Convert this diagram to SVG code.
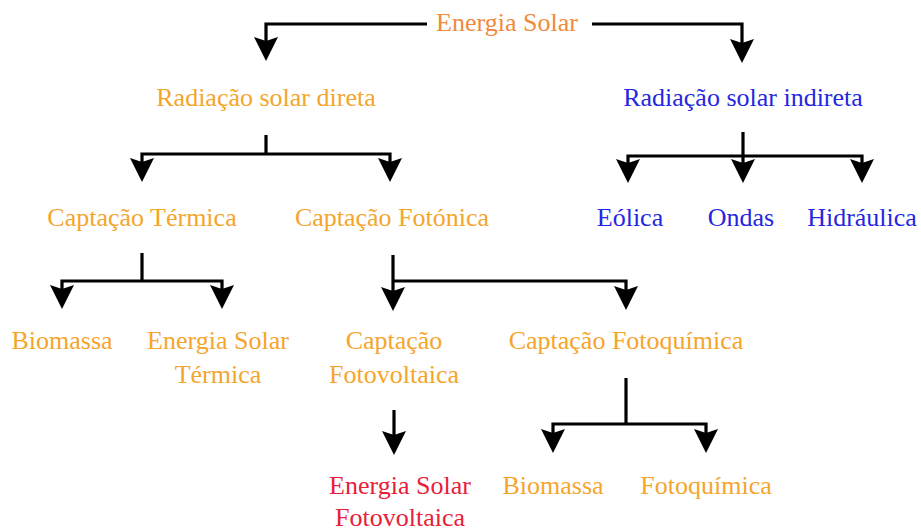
<svg xmlns="http://www.w3.org/2000/svg" xmlns:xlink="http://www.w3.org/1999/xlink" width="921" height="532" viewBox="0 0 921 532">
<style>
text{font-family:"Liberation Serif","Times New Roman",serif;font-size:26px;text-anchor:middle}
.o{fill:#F5A52C}
.t{fill:#F08A3C}
.b{fill:#2626E0}
.r{fill:#E8203A}
.c{fill:none;stroke:#000;stroke-width:3.2}
</style>
<defs>
<path id="arr" d="M0,0 L-12,-24 L0,-20 L12,-24 z" fill="#000"/>
</defs>
<rect width="921" height="532" fill="#fff"/>
<g id="connectors">
<path class="c" d="M427,24 H266 V44"/><use href="#arr" xlink:href="#arr" x="266" y="61"/>
<path class="c" d="M592,24 H742 V46"/><use href="#arr" xlink:href="#arr" x="742" y="63"/>
<path class="c" d="M266,135 V154"/>
<path class="c" d="M266,154 H142 V165"/><use href="#arr" xlink:href="#arr" x="142" y="182"/>
<path class="c" d="M266,154 H390 V165"/><use href="#arr" xlink:href="#arr" x="390" y="182"/>
<path class="c" d="M743,132 V166"/><use href="#arr" xlink:href="#arr" x="743" y="183"/>
<path class="c" d="M743,156 H628 V166"/><use href="#arr" xlink:href="#arr" x="628" y="183"/>
<path class="c" d="M743,156 H862 V166"/><use href="#arr" xlink:href="#arr" x="862" y="183"/>
<path class="c" d="M142,253 V281"/>
<path class="c" d="M142,281 H62 V292"/><use href="#arr" xlink:href="#arr" x="62" y="309"/>
<path class="c" d="M142,281 H222 V292"/><use href="#arr" xlink:href="#arr" x="222" y="309"/>
<path class="c" d="M393,255 V294"/><use href="#arr" xlink:href="#arr" x="393" y="311"/>
<path class="c" d="M393,281 H626 V293"/><use href="#arr" xlink:href="#arr" x="626" y="310"/>
<path class="c" d="M394,410 V438"/><use href="#arr" xlink:href="#arr" x="394" y="455"/>
<path class="c" d="M626,378 V424"/>
<path class="c" d="M626,424 H553 V436"/><use href="#arr" xlink:href="#arr" x="553" y="453"/>
<path class="c" d="M626,424 H706 V436"/><use href="#arr" xlink:href="#arr" x="706" y="453"/>
</g>
<g id="energia-solar"><text class="t" x="507" y="31">Energia Solar</text></g>
<g id="radiacao-direta"><text class="o" x="266" y="106">Radiação solar direta</text></g>
<g id="radiacao-indireta"><text class="b" x="743" y="106">Radiação solar indireta</text></g>
<g id="captacao-termica"><text class="o" x="142" y="226">Captação Térmica</text></g>
<g id="captacao-fotonica"><text class="o" x="392" y="226">Captação Fotónica</text></g>
<g id="eolica"><text class="b" x="630" y="226">Eólica</text></g>
<g id="ondas"><text class="b" x="741" y="226">Ondas</text></g>
<g id="hidraulica"><text class="b" x="862" y="226">Hidráulica</text></g>
<g id="biomassa1"><text class="o" x="62" y="349">Biomassa</text></g>
<g id="energia-solar-termica"><text class="o" x="218" y="349">Energia Solar</text><text class="o" x="218" y="383">Térmica</text></g>
<g id="captacao-fotovoltaica"><text class="o" x="394" y="349">Captação</text><text class="o" x="394" y="383">Fotovoltaica</text></g>
<g id="captacao-fotoquimica"><text class="o" x="626" y="349">Captação Fotoquímica</text></g>
<g id="energia-solar-fotovoltaica"><text class="r" x="400" y="494">Energia Solar</text><text class="r" x="400" y="526">Fotovoltaica</text></g>
<g id="biomassa2"><text class="o" x="553" y="494">Biomassa</text></g>
<g id="fotoquimica"><text class="o" x="706" y="494">Fotoquímica</text></g>
</svg>
